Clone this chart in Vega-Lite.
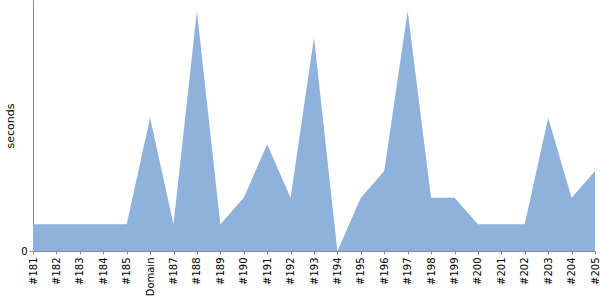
{
  "$schema": "https://vega.github.io/schema/vega-lite/v6.json",
  "autosize": "none",
  "width": 562,
  "height": 251,
  "padding": {"left": 33, "top": 0, "right": 5, "bottom": 49},
  "background": "white",
  "config": {"view": {"stroke": null}, "font": "DejaVu Sans"},
  "data": {"values": [
    {"build": "#181", "seconds": 1},
    {"build": "#182", "seconds": 1},
    {"build": "#183", "seconds": 1},
    {"build": "#184", "seconds": 1},
    {"build": "#185", "seconds": 1},
    {"build": "Domain", "seconds": 5},
    {"build": "#187", "seconds": 1},
    {"build": "#188", "seconds": 9},
    {"build": "#189", "seconds": 1},
    {"build": "#190", "seconds": 2},
    {"build": "#191", "seconds": 4},
    {"build": "#192", "seconds": 2},
    {"build": "#193", "seconds": 8},
    {"build": "#194", "seconds": 0},
    {"build": "#195", "seconds": 2},
    {"build": "#196", "seconds": 3},
    {"build": "#197", "seconds": 9},
    {"build": "#198", "seconds": 2},
    {"build": "#199", "seconds": 2},
    {"build": "#200", "seconds": 1},
    {"build": "#201", "seconds": 1},
    {"build": "#202", "seconds": 1},
    {"build": "#203", "seconds": 5},
    {"build": "#204", "seconds": 2},
    {"build": "#205", "seconds": 3}
  ]},
  "mark": {"type": "area", "color": "#8fb2dc", "opacity": 1},
  "encoding": {
    "x": {
      "field": "build", "type": "ordinal", "sort": null,
      "scale": {"type": "point", "padding": 0},
      "axis": {
        "title": null, "labelAngle": -90, "labelAlign": "right", "labelBaseline": "middle",
        "labelFontSize": 10, "labelColor": "#000", "labelPadding": 3,
        "domainColor": "#888", "tickColor": "#888", "tickSize": 3, "grid": false, "labelOverlap": false
      }
    },
    "y": {
      "field": "seconds", "type": "quantitative",
      "scale": {"domain": [0, 9.41], "nice": false},
      "axis": {
        "title": "seconds", "titleFontWeight": "normal", "titleFontSize": 11, "titleColor": "#000", "titlePadding": 5,
        "values": [0], "labelFontSize": 10, "labelColor": "#000", "tickSize": 4,
        "domainColor": "#888", "tickColor": "#888", "grid": false
      }
    }
  }
}
